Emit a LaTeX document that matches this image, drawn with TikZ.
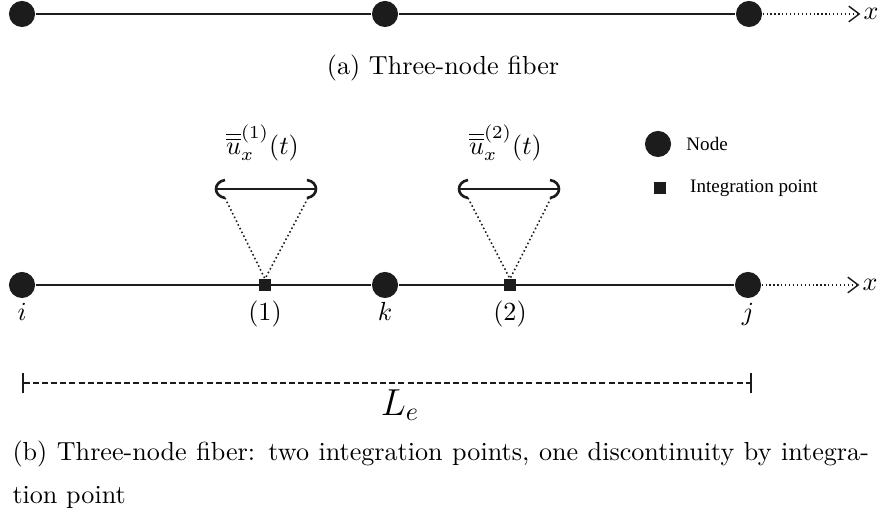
\documentclass[tikz,border=0pt]{standalone}
\usepackage{amsmath,amssymb}
\usepackage{fontspec}
\newfontfamily\legendfont{Liberation Serif}
\usepackage{tikz}
\usetikzlibrary{arrows.meta,positioning}
\usepackage{xcolor}
\definecolor{ink}{RGB}{28,28,28}
\tikzset{
  fnode/.style={circle,fill=ink,inner sep=0pt,minimum size=10pt},
  ipt/.style={rectangle,fill=ink,inner sep=0pt,minimum size=4.3pt},
  fiber/.style={line width=1pt,ink},
  bar/.style={line width=1pt,ink},
  link/.style={densely dotted,line width=0.6pt,ink},
  axis/.style={densely dotted,line width=0.5pt,ink,
    -{Straight Barb[length=4pt,width=6pt,line width=0.55pt]}},
  dim/.style={line width=0.8pt,ink,dash pattern=on 2.3pt off 1.2pt,
    {Bar[width=7.6pt,line width=0.9pt]}-{Bar[width=7.6pt,line width=0.9pt]}},
  lgtxt/.style={font=\legendfont\fontsize{7.3}{9}\selectfont,anchor=west,inner sep=0pt},
  caption/.style={font=\fontsize{10}{16.5}\selectfont},
}

\begin{document}
\begin{tikzpicture}[x=0.383pt,y=-0.383pt]
  \useasboundingbox (0,0) rectangle (882,514);

  % (a) three-node fiber
  \node[fnode] (a1) at (22,14) {};
  \node[fnode] (a2) at (385,14) {};
  \node[fnode] (a3) at (749,14) {};
  \node[inner sep=1pt] (ax) at (871,14) {$x$};
  \draw[fiber] (a1) -- (a2) -- (a3);
  \draw[axis] (a3) -- (ax);
  \node[caption] (capa) at (443,68) {(a) Three-node fiber};

  % (b) nodes and integration points
  \node[fnode] (ni) at (22,285) {};
  \node[fnode] (nk) at (385,285) {};
  \node[fnode] (nj) at (748,285) {};
  \node[ipt] (p1) at (265,285) {};
  \node[ipt] (p2) at (510,285) {};
  \node[inner sep=1pt] (bx) at (870,285) {$x$};
  \draw[fiber] (ni) -- (p1) -- (nk) -- (p2) -- (nj);
  \draw[axis] (nj) -- (bx);

  \coordinate (lab) at (0,321);
  \foreach \n/\t in {ni/i,p1/(1),nk/k,p2/(2),nj/j}
    \node[anchor=base] (l-\n) at (\n |- lab) {$\t$};

  % discontinuities
  \foreach \p/\l/\r/\k in {p1/216/315/1,p2/459/558/2}{
    \draw[bar] (\l,189) -- (\r,189);
    \draw[bar] (\l+9,180) .. controls (\l-3,182) and (\l-3,196) .. (\l+9,198);
    \draw[bar] (\r-8,180) .. controls (\r+4,182) and (\r+4,196) .. (\r-8,198);
    \coordinate (\p-l) at (\l+9,198);
    \coordinate (\p-r) at (\r-7,198);
    \draw[link] (\p-l) -- (\p.north);
    \draw[link] (\p-r) -- (\p.north);
    \node (u\k) at ({(\l+\r)/2-3},143) {$\overline{\overline{u}}_x^{(\k)}(t)$};
  }

  % legend
  \node[fnode] (lgn) at (658,144) {};
  \node[lgtxt,right=5.5pt of lgn] (lgnt) {Node};
  \node[ipt] (lgp) at (660,188) {};
  \node[lgtxt,right=9pt of lgp] (lgpt) {Integration point};

  % element length
  \coordinate (le-a) at (22,383);
  \coordinate (le-b) at (752,383);
  \draw[dim] (le-a) -- (le-b);
  \node[font=\Large] (le) at (400,405) {$L_e$};

  \node[caption,anchor=north west,text width=328pt,align=justify,inner sep=0pt] (capb) at (12,440)
    {(b) Three-node fiber: two integration points, one discontinuity by integra-\linebreak tion point};
\end{tikzpicture}
\end{document}
